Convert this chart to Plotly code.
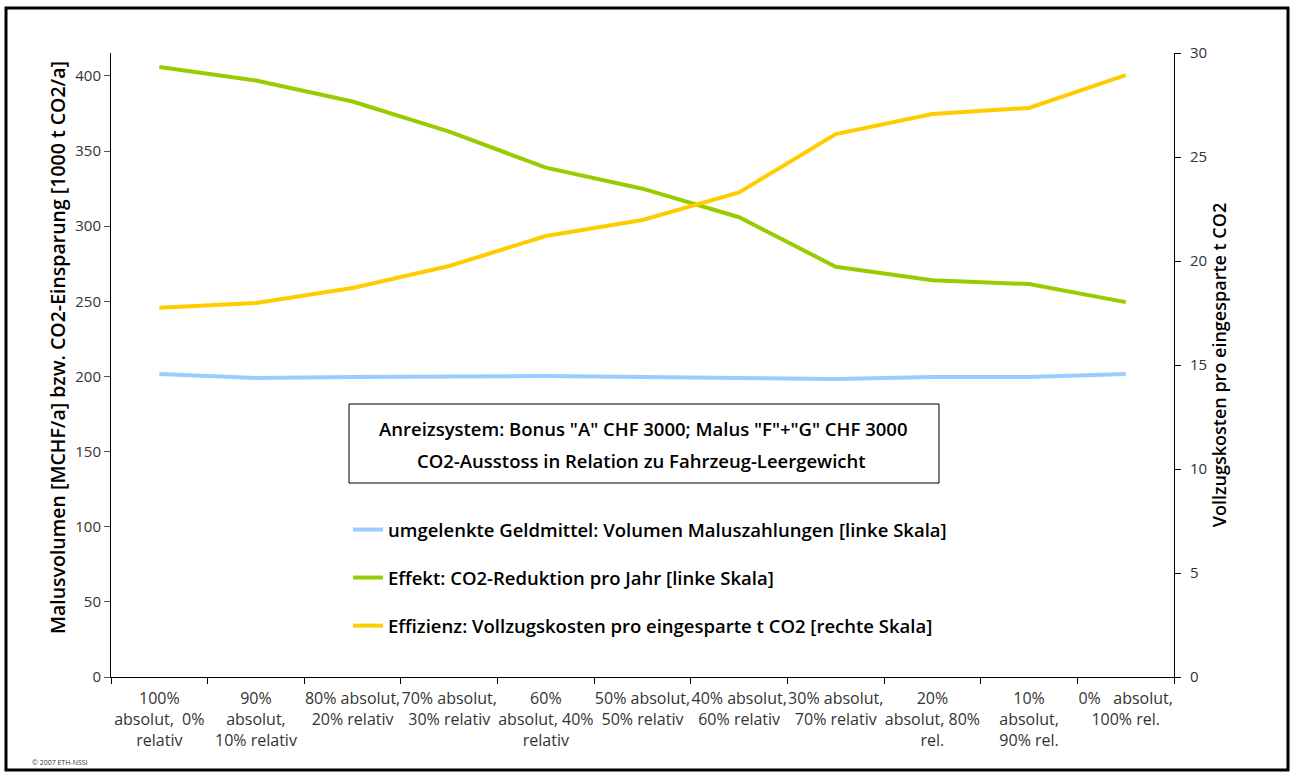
import plotly.graph_objects as go

# scenarios: share of absolute vs. relative assessment
szenarien = [
    "100%<br>absolut,  0%<br>relativ",
    "90%<br>absolut,<br>10% relativ",
    "80% absolut,<br>20% relativ",
    "70% absolut,<br>30% relativ",
    "60%<br>absolut, 40%<br>relativ",
    "50% absolut,<br>50% relativ",
    "40% absolut,<br>60% relativ",
    "30% absolut,<br>70% relativ",
    "20%<br>absolut, 80%<br>rel.",
    "10%<br>absolut,<br>90% rel.",
    "0%   absolut,<br>100% rel.",
]

malusvolumen = [201.7, 199.0, 199.7, 200.3, 200.3, 199.7, 199.0, 198.3, 199.7, 199.7, 201.7]
co2_reduktion = [406, 397, 383, 363, 339, 325, 306, 273, 264, 261.5, 249.5]
vollzugskosten = [17.75, 17.98, 18.7, 19.76, 21.2, 21.97, 23.3, 26.1, 27.07, 27.36, 28.94]

FONT = "Open Sans"
W, H = 1292, 776
ML, MR, MT, MB = 111, 118, 53, 99
pw, ph = W - ML - MR, H - MT - MB


def px(x):
    return (x - ML) / pw


def py(y):
    return (H - MB - y) / ph


fig = go.Figure()

fig.add_trace(go.Scatter(x=szenarien, y=malusvolumen, mode="lines",
                         line=dict(color="#99ccff", width=4), legendgroup="a",
                         name="umgelenkte Geldmittel: Volumen Maluszahlungen [linke Skala]"))
fig.add_trace(go.Scatter(x=szenarien, y=co2_reduktion, mode="lines",
                         line=dict(color="#99cc00", width=4), legendgroup="b",
                         name="Effekt: CO2-Reduktion pro Jahr [linke Skala]"))
fig.add_trace(go.Scatter(x=szenarien, y=vollzugskosten, mode="lines", yaxis="y2",
                         line=dict(color="#ffcc00", width=4), legendgroup="c",
                         name="Effizienz: Vollzugskosten pro eingesparte t CO2 [rechte Skala]"))

fig.update_layout(
    width=W, height=H,
    margin=dict(l=ML, r=MR, t=MT, b=MB),
    paper_bgcolor="white", plot_bgcolor="white",
    font=dict(family=FONT, size=15, color="#222"),
    xaxis=dict(type="category", showline=True, linecolor="black", linewidth=1,
               ticks="outside", tickson="boundaries", ticklen=6, tickcolor="black",
               showgrid=False, tickangle=0, tickfont=dict(size=16, color="#333"),
               ticklabelstandoff=7, range=[-0.5, 10.5]),
    yaxis=dict(range=[0, 415.3], tickvals=list(range(0, 401, 50)), showline=True,
               linecolor="black", linewidth=1, ticks="outside", ticklen=6,
               tickcolor="#555", showgrid=False, zeroline=False,
               tickfont=dict(size=15, color="#333")),
    yaxis2=dict(range=[0, 30], tickvals=list(range(0, 31, 5)), overlaying="y",
                side="right", showline=True, linecolor="black", linewidth=1,
                ticks="outside", ticklen=6, tickcolor="black", showgrid=False,
                zeroline=False, tickfont=dict(size=15, color="#333"),
                ticklabelstandoff=6,
                title=dict(text="Vollzugskosten pro eingesparte t CO2",
                           font=dict(size=18, color="black", weight=600), standoff=7)),
    legend=dict(x=px(348), y=py(511), xanchor="left", yanchor="top",
                bgcolor="rgba(0,0,0,0)", tracegroupgap=21,
                font=dict(size=18.5, color="black", weight=600)),
    hovermode=False,
)

# left axis title, placed as in the original (slightly above centre)
fig.add_annotation(
    xref="paper", yref="paper", x=px(57), y=py(348), xanchor="center", yanchor="middle",
    text="Malusvolumen [MCHF/a] bzw. CO2-Einsparung [1000 t CO2/a]", textangle=-90,
    showarrow=False, font=dict(size=19.5, color="black", weight=600),
)

# title box of the legend area
fig.add_shape(type="rect", xref="paper", yref="paper",
              x0=px(349), x1=px(939), y0=py(483), y1=py(404),
              line=dict(color="black", width=1), fillcolor="white", layer="above")
fig.add_annotation(
    xref="paper", yref="paper", x=px(643), y=py(428), xanchor="center", yanchor="middle",
    text="Anreizsystem: Bonus \"A\" CHF 3000; Malus \"F\"+\"G\" CHF 3000",
    showarrow=False, font=dict(size=18.5, color="black", weight=600),
)
fig.add_annotation(
    xref="paper", yref="paper", x=px(641), y=py(460), xanchor="center", yanchor="middle",
    text="CO2-Ausstoss in Relation zu Fahrzeug-Leergewicht",
    showarrow=False, font=dict(size=18.5, color="black", weight=600),
)

fig.add_annotation(
    xref="paper", yref="paper", x=px(30), y=py(762), xanchor="left", yanchor="middle",
    text="© 2007 ETH-NSSI", showarrow=False, font=dict(size=7, color="#333"),
)

# outer frame
fig.add_shape(type="rect", xref="paper", yref="paper",
              x0=px(6), x1=px(1288), y0=py(770), y1=py(8),
              line=dict(color="black", width=3), layer="below")

fig.write_html("out.html", config={"displayModeBar": False},
               post_script="document.body.style.margin='0px';")
